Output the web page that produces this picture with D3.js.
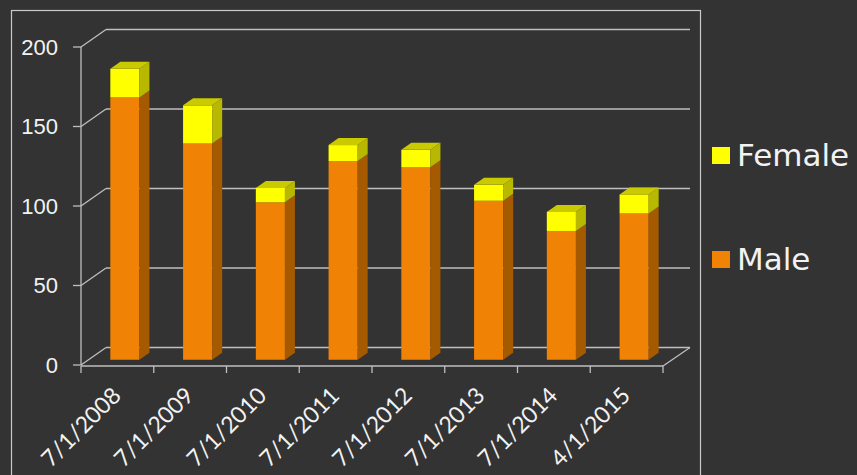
<!DOCTYPE html>
<html>
<head>
<meta charset="utf-8">
<script src="https://cdn.jsdelivr.net/npm/d3@7"></script>
<style>
  body { margin: 0; background: #333333; }
</style>
</head>
<body>
<div id="chart"></div>
<script>
// datos del gráfico
const categories = ["7/1/2008", "7/1/2009", "7/1/2010", "7/1/2011", "7/1/2012", "7/1/2013", "7/1/2014", "4/1/2015"];
const male = [165, 136, 99, 125, 121, 100, 81, 92];
const female = [18, 24, 9, 10, 11, 10, 12, 12];
const yTicks = [0, 50, 100, 150, 200];
const seriesNames = ["Female", "Male"];

const width = 857;
const height = 475;

// profundidad del efecto 3D
const depthX = 25;
const depthY = -17.5;
const barFront = 0.3;   // posición de la cara frontal dentro de la profundidad
const barDepth = 0.4;   // grosor de la barra en profundidad

const colors = {
    Male: { front: "#F08205", side: "#A65A00", top: "#C46A00" },
    Female: { front: "#FFFF00", side: "#B8B800", top: "#CACA00" }
};

const svg = d3.select("#chart")
    .append("svg")
    .attr("width", width)
    .attr("height", height)
    .style("background", "#333333");

// marco del área del gráfico
svg.append("rect")
    .attr("x", 11.5)
    .attr("y", 10.5)
    .attr("width", 689)
    .attr("height", 500)
    .attr("fill", "none")
    .attr("stroke", "#C8C8C8")
    .attr("stroke-width", 1.2);

const x = d3.scaleBand()
    .domain(categories)
    .range([81, 663])
    .paddingInner(0.6)
    .paddingOuter(0.3);

const xTicks = d3.scaleBand()
    .domain(categories)
    .range([81, 663]);

const y = d3.scaleLinear()
    .domain([0, 200])
    .range([365, 47]);

const gridColor = "#BFBFBF";

// líneas de la pared del fondo y diagonales de la pared lateral
const grid = svg.append("g");
yTicks.forEach(v => {
    grid.append("line")
        .attr("x1", 81 + depthX).attr("y1", y(v) + depthY)
        .attr("x2", 663 + depthX + 2).attr("y2", y(v) + depthY)
        .attr("stroke", gridColor).attr("stroke-width", 1.3);
    grid.append("line")
        .attr("x1", 81).attr("y1", y(v))
        .attr("x2", 81 + depthX).attr("y2", y(v) + depthY)
        .attr("stroke", gridColor).attr("stroke-width", 1.3);
    grid.append("line")
        .attr("x1", 73).attr("y1", y(v))
        .attr("x2", 81).attr("y2", y(v))
        .attr("stroke", gridColor).attr("stroke-width", 1.3);
});

// eje vertical frontal
grid.append("line")
    .attr("x1", 81).attr("y1", y(200))
    .attr("x2", 81).attr("y2", y(0))
    .attr("stroke", gridColor).attr("stroke-width", 1.3);

// suelo: borde frontal y diagonal derecha
grid.append("line")
    .attr("x1", 81).attr("y1", y(0) + 1)
    .attr("x2", 663).attr("y2", y(0) + 1)
    .attr("stroke", gridColor).attr("stroke-width", 1.3);
grid.append("line")
    .attr("x1", 663).attr("y1", y(0) + 1)
    .attr("x2", 663 + depthX + 2).attr("y2", y(0) + depthY)
    .attr("stroke", gridColor).attr("stroke-width", 1.3);

// marcas del eje x
categories.concat(["end"]).forEach((c, i) => {
    const xt = i < categories.length ? xTicks(c) : 663;
    grid.append("line")
        .attr("x1", xt).attr("y1", y(0) + 1)
        .attr("x2", xt).attr("y2", y(0) + 8)
        .attr("stroke", gridColor).attr("stroke-width", 1.3);
});

// etiquetas del eje y
svg.append("g").selectAll("text")
    .data(yTicks)
    .enter()
    .append("text")
    .attr("x", 58)
    .attr("y", d => y(d))
    .attr("dy", "0.36em")
    .attr("text-anchor", "end")
    .style("font-family", "'Liberation Sans', Arial, sans-serif")
    .style("font-size", "22px")
    .attr("fill", "#F2F2F2")
    .text(d => d);

// etiquetas del eje x giradas
svg.append("g").selectAll("text")
    .data(categories)
    .enter()
    .append("text")
    .attr("transform", d => `translate(${x(d) + x.bandwidth() / 2 + 5}, 397) rotate(-45)`)
    .attr("text-anchor", "end")
    .style("font-family", "Lato, 'DejaVu Sans', sans-serif")
    .style("font-size", "23px")
    .attr("fill", "#F2F2F2")
    .text(d => d);

// barras 3D apiladas
const dx = barDepth * depthX;
const dy = barDepth * depthY;
const offX = barFront * depthX;
const offY = barFront * depthY;
const bw = x.bandwidth();

function drawBlock(g, x0, v0, v1, col, withTop) {
    const yTop = y(v1) + offY;
    const yBot = y(v0) + offY;
    const x1 = x0 + bw;
    g.append("rect")
        .attr("x", x0).attr("y", yTop)
        .attr("width", bw).attr("height", yBot - yTop)
        .attr("fill", col.front);
    g.append("polygon")
        .attr("points", [[x1, yTop], [x1 + dx, yTop + dy], [x1 + dx, yBot + dy], [x1, yBot]].join(" "))
        .attr("fill", col.side);
    if (withTop) {
        g.append("polygon")
            .attr("points", [[x0, yTop], [x1, yTop], [x1 + dx, yTop + dy], [x0 + dx, yTop + dy]].join(" "))
            .attr("fill", col.top);
    }
}

const bars = svg.append("g");
categories.forEach((c, i) => {
    const g = bars.append("g");
    const x0 = x(c) + offX;
    drawBlock(g, x0, 0, male[i], colors.Male, false);
    drawBlock(g, x0, male[i], male[i] + female[i], colors.Female, true);
});

// leyenda
const legend = svg.append("g");
seriesNames.forEach((name, i) => {
    const ly = 147 + i * 104;
    legend.append("rect")
        .attr("x", 712).attr("y", ly)
        .attr("width", 18).attr("height", 17)
        .attr("fill", colors[name].front);
    legend.append("text")
        .attr("x", 737).attr("y", ly + 19)
        .style("font-family", "'DejaVu Sans', sans-serif")
        .style("font-size", "31px")
        .attr("fill", "#F2F2F2")
        .text(name);
});
</script>
</body>
</html>
